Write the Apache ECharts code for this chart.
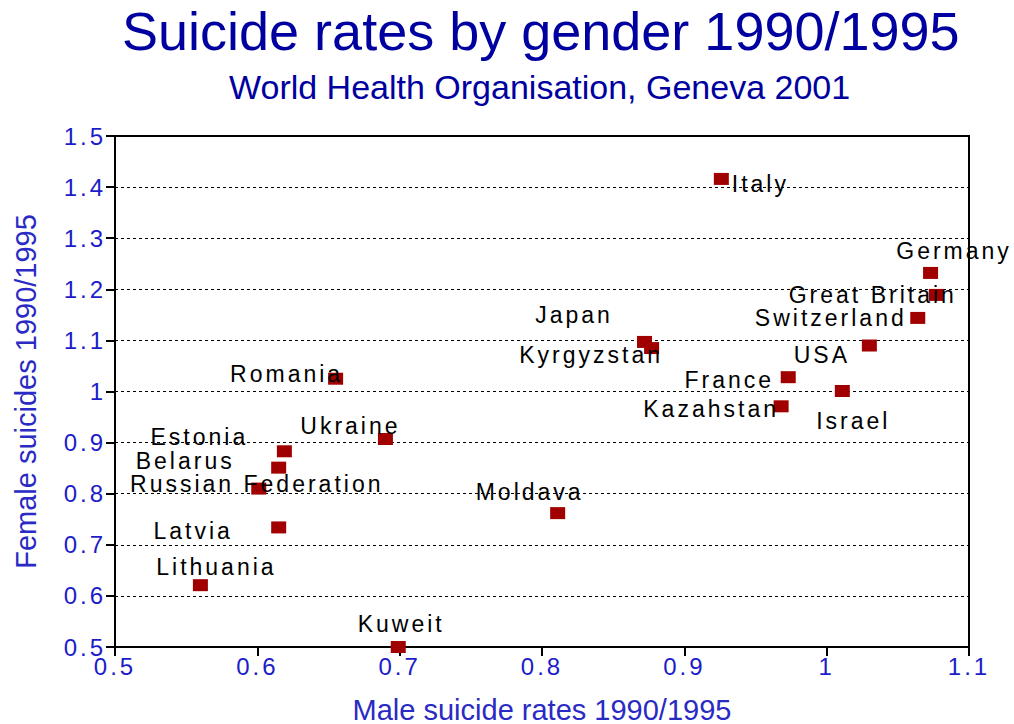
<!DOCTYPE html>
<html><head><meta charset="utf-8">
<script src="https://cdn.jsdelivr.net/npm/echarts@6/dist/echarts.min.js"></script>
<style>
html,body{margin:0;padding:0;background:#fff;}
#chart{width:1014px;height:724px;}
#chart text[style*="23px"]{letter-spacing:3px;}
#chart text[style*="24px"]{letter-spacing:3px;}
</style></head><body><div id="chart"></div>
<script>
// ---- data ----
const countries = ['Italy','Germany','Great Britain','Switzerland','USA','Japan','Kyrgyzstan','France','Israel','Kazahstan','Romania','Ukraine','Estonia','Belarus','Russian Federation','Latvia','Lithuania','Moldava','Kuweit'];
const maleRates   = [0.926,1.073,1.077,1.064,1.030,0.872,0.877,0.973,1.011,0.968,0.655,0.690,0.619,0.615,0.601,0.615,0.560,0.811,0.699];
const femaleRates = [1.416,1.232,1.189,1.144,1.090,1.097,1.085,1.028,1.001,0.971,1.025,0.907,0.883,0.851,0.810,0.734,0.621,0.762,0.500];
const xTicks = [0.5,0.6,0.7,0.8,0.9,1.0,1.1];
const yTicks = [0.5,0.6,0.7,0.8,0.9,1.0,1.1,1.2,1.3,1.4,1.5];

// ---- label placement (style, pixels relative to the marker) ----
const labelOffsets = {
  'Italy':[39,5],'Germany':[23.5,-22],'Great Britain':[-63.5,0],'Switzerland':[-87,0],'USA':[-47.5,9.5],
  'Japan':[-70.5,-27],'Kyrgyzstan':[-60.5,7.3],'France':[-59,3],'Israel':[11,30.5],'Kazahstan':[-70,2.5],
  'Romania':[-49,-5],'Ukraine':[-35,-13],'Estonia':[-85,-14.5],'Belarus':[-93.5,-7],'Russian Federation':[-2,-4.3],
  'Latvia':[-85.5,4],'Lithuania':[16,-18],'Moldava':[-28,-21.5],'Kuweit':[3,-23]
};

const FONT = 'Liberation Sans';
const points = countries.map((c,i)=>({
  name:c, value:[maleRates[i], femaleRates[i]],
  label:{offset: labelOffsets[c]}
}));

const chart = echarts.init(document.getElementById('chart'), null, {renderer:'svg'});
chart.setOption({
  animation:false,
  backgroundColor:'#ffffff',
  title:[
    {text:'Suicide rates by gender 1990/1995', left:122, top:4, padding:0,
     textStyle:{fontFamily:FONT, fontSize:54, fontWeight:'normal', color:'#0000a0'}},
    {text:'World Health Organisation, Geneva 2001', left:229, top:70, padding:0,
     textStyle:{fontFamily:FONT, fontSize:34, fontWeight:'normal', color:'#0000a0'}}
  ],
  grid:{left:115, right:45, top:136, bottom:77, show:true, borderColor:'#000', borderWidth:2,
        containLabel:false, outerBoundsMode:'none'},
  xAxis:{
    type:'value', min:xTicks[0], max:xTicks[xTicks.length-1], interval:0.1,
    name:'Male suicide rates 1990/1995', nameLocation:'middle', nameGap:48,
    nameTextStyle:{fontFamily:FONT, fontSize:29, color:'#2a2ac4'},
    axisLine:{show:true, lineStyle:{color:'#000', width:2}},
    axisTick:{show:true, inside:false, length:9, lineStyle:{color:'#000', width:2}},
    axisLabel:{fontFamily:FONT, fontSize:24, color:'#1c1cc8', margin:7},
    splitLine:{show:false}
  },
  yAxis:{
    type:'value', min:yTicks[0], max:yTicks[yTicks.length-1], interval:0.1,
    name:'Female suicides 1990/1995', nameLocation:'middle', nameGap:75, nameRotate:90,
    nameTextStyle:{fontFamily:FONT, fontSize:29, color:'#2a2ac4'},
    axisLine:{show:true, lineStyle:{color:'#000', width:2}},
    axisTick:{show:true, inside:false, length:9, lineStyle:{color:'#000', width:2}},
    axisLabel:{fontFamily:FONT, fontSize:24, color:'#1c1cc8', margin:9},
    splitLine:{show:true, lineStyle:{color:'#000', width:1.2, type:[3,3]}}
  },
  series:[{
    type:'scatter', clip:false,
    symbol:'rect', symbolSize:[15,12],
    itemStyle:{color:'#a00000', opacity:1},
    label:{show:true, position:'inside', formatter:'{b}', fontFamily:FONT, fontSize:23, color:'#000000', align:'center', verticalAlign:'middle'},
    emphasis:{disabled:true},
    data:points
  }]
});
</script></body></html>
